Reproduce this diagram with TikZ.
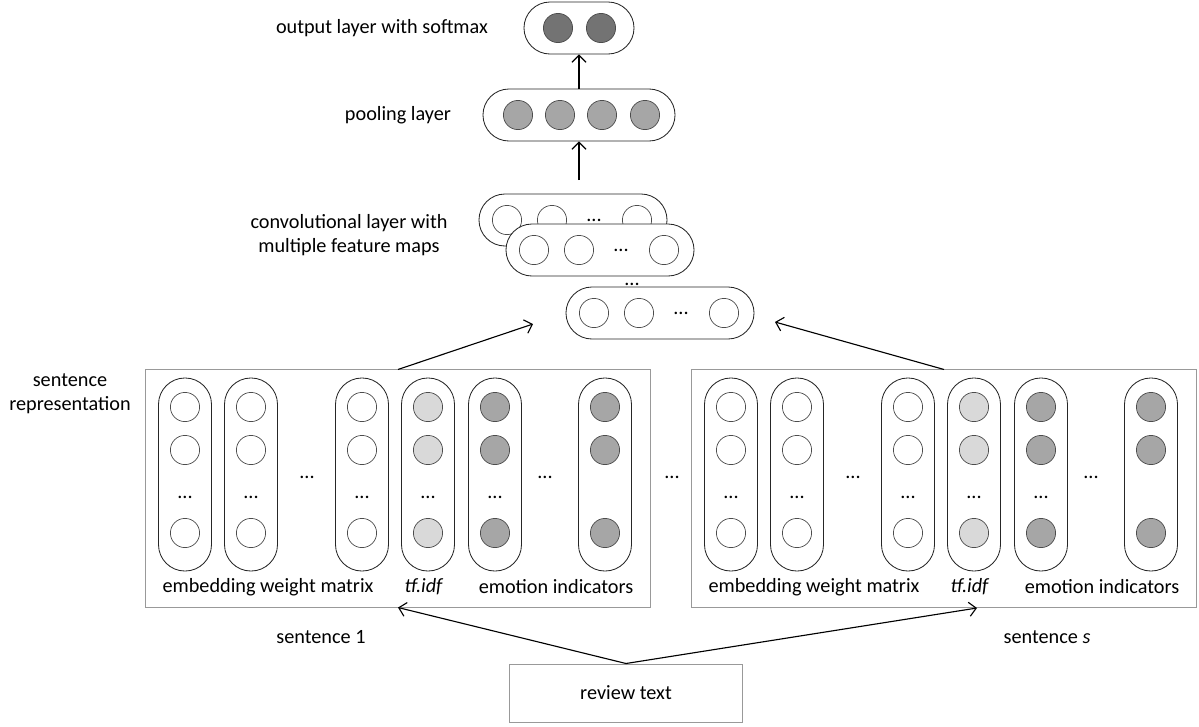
\documentclass[tikz,border=0pt]{standalone}
\usepackage{fontspec}
\setmainfont{Carlito}
\usetikzlibrary{arrows.meta, positioning}

\tikzset{
    unit/.style={circle, draw=black!70, line width=0.5pt, minimum size=0.73cm, inner sep=0pt},
    layercap/.style={draw=black!85, line width=0.6pt, rounded corners=0.65cm, minimum height=1.3cm, fill=white},
    vcap/.style={draw=black!85, line width=0.6pt, rounded corners=0.66cm, minimum width=1.325cm, minimum height=4.825cm},
    sentbox/.style={draw=black!40, line width=0.7pt, minimum width=12.6cm, minimum height=5.925cm},
    arr/.style={-{Straight Barb[length=5pt,width=10pt]}, line width=0.8pt},
}

\begin{document}
\begin{tikzpicture}[x=0.025cm, y=-0.025cm, font=\fontsize{14.4}{17}\selectfont]

\useasboundingbox (0,0) rectangle (1199,726);

% Output layer
\node[layercap, minimum width=2.75cm] (outl) at (579,28) {};
\foreach \x [count=\i] in {558,601}
    \node[unit, fill=black!55] (o\i) at (\x,28) {};
\node (outlbl) at (382,28) {output layer with softmax};

% Pooling layer
\node[layercap, minimum width=4.8cm] (pool) at (579,115) {};
\foreach \x [count=\i] in {518,560,602,645}
    \node[unit, fill=black!35] (p\i) at (\x,115) {};
\node (poollbl) at (398,115) {pooling layer};

% Convolutional feature maps, back to front
\foreach \cx/\cy/\m in {573/220/a, 600/250/b, 660/313/c} {
    \node[layercap, minimum width=4.7cm] (map\m) at (\cx,\cy) {};
    \foreach \dx [count=\i] in {-66,-21,64}
        \node[unit, fill=white] (map\m\i) at (\cx+\dx,\cy) {};
    \node (mapdots\m) at (\cx+21,\cy) {...};
}
\node (mapdots) at (632,284) {...};
\node[align=center] (convlbl) at (349,235) {convolutional layer with\\multiple feature maps};

% Sentence representations
\foreach \off/\sn in {0/1, 546/s} {
    \node[sentbox] (sent\sn) at (398+\off,488.5) {};
    \foreach \x/\c [count=\i] in {185/white, 251/white, 362/white, 428/black!15, 495/black!35, 605/black!35} {
        \node[vcap] (col\sn\i) at (\x+\off,474.5) {};
        \node[unit, fill=\c] (col\sn\i-1) at (\x+\off,407) {};
        \node[unit, fill=\c] (col\sn\i-2) at (\x+\off,450) {};
        \node[unit, fill=\c] (col\sn\i-3) at (\x+\off,533) {};
        \ifnum\i<6 \node (coldots\sn\i) at (\x+\off,497) {...}; \fi
    }
    \node (embdots\sn) at (307+\off,477) {...};
    \node (emodots\sn) at (545+\off,477) {...};
    \node (emblbl\sn) at (268+\off,587) {embedding weight matrix};
    \node (tflbl\sn) at (424+\off,587) {\textit{tf.idf}};
    \node (emolbl\sn) at (556+\off,587) {emotion indicators};
}
\node (sentdots) at (672,477) {...};
\node[align=center] (replbl) at (70,394) {sentence\\representation};
\node (s1lbl) at (321,637) {sentence 1};
\node (sslbl) at (1047,637) {sentence \textit{s}};

% Review text
\node[draw=black!40, line width=0.7pt, minimum width=5.8cm, minimum height=1.45cm] (review) at (626,693) {review text};

% Arrows
\coordinate (c1in) at (533,324);
\coordinate (csin) at (775,322);
\coordinate (convtop) at (579,180);
\coordinate (sin) at (977,608);
\draw[arr] (sent1.north) -- (c1in);
\draw[arr] (sents.north) -- (csin);
\draw[arr] (convtop) -- (pool.south);
\draw[arr] (pool.north) -- (outl.south);
\draw[arr] (review.north) -- (sent1.south);
\draw[arr] (review.north) -- (sin);

\end{tikzpicture}
\end{document}
